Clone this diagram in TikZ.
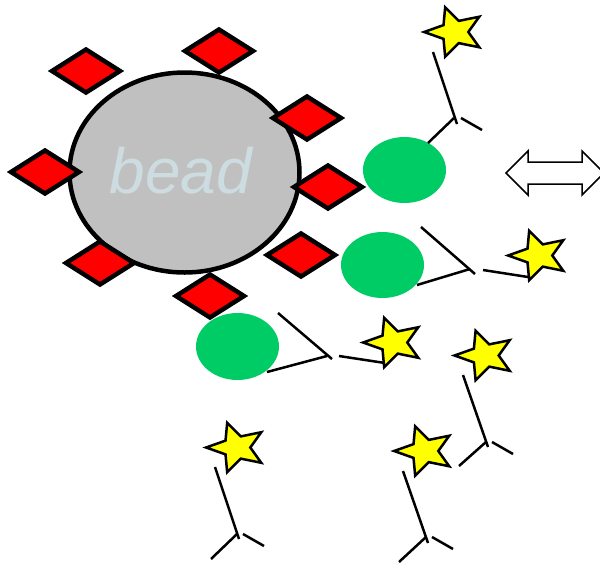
\documentclass[tikz,border=0pt]{standalone}
\usepackage{fontspec}
\newfontfamily\labelfont{Liberation Sans}
\definecolor{beadgray}{HTML}{C0C0C0}
\definecolor{beadtext}{HTML}{CDDCE0}
\definecolor{antigengreen}{HTML}{00CC66}
\definecolor{tagyellow}{HTML}{FFFF00}
\begin{document}
\begin{tikzpicture}[x=1pt,y=-1pt,
  beadbody/.style={fill=beadgray, draw=black, line width=4.5pt},
  epitopebox/.style={fill=red, draw=black, line width=4.5pt, line join=miter},
  antigen/.style={fill=antigengreen},
  antibody/.style={draw=black, line width=2.5pt},
  tagstar/.style={fill=tagyellow, draw=black, line width=2.5pt, line join=miter},
  exchange/.style={fill=white, draw=black, line width=1.5pt},
  pics/epitope/.style={code={
    \draw[epitopebox] (-34,0) -- (0,-21.5) -- (34,0) -- (0,21.5) -- cycle;}},
  pics/tag/.style={code={
    \draw[tagstar] plot[samples at={0,...,9}, variable=\k]
      ({(mod(\k,2)==0 ? 30.5 : 13.7)*cos(108+36*\k)},
       {-(mod(\k,2)==0 ? 26 : 11.7)*sin(108+36*\k)}) -- cycle;}}]

\useasboundingbox (0,0) rectangle (600,566);

% the bead
\draw[beadbody] (184.5,172.5) ellipse [x radius=115, y radius=100];

% epitopes around the bead
\foreach \p in {(86,71),(219,51),(307,118),(45,172),(328,187),(301,255),(100,263),(210,296)}
  \pic at \p {epitope};

\node[anchor=base, text=beadtext, inner sep=0pt,
      font=\labelfont\itshape\fontsize{64}{64}\selectfont] (beadlabel) at (181,193) {bead};

% antigens
\fill[antigen] (404.5,170) ellipse [x radius=41.5, y radius=33];
\fill[antigen] (382.5,265) ellipse [x radius=41.5, y radius=33];
\fill[antigen] (237.5,346.5) ellipse [x radius=41.5, y radius=33.5];

% antibodies
\draw[antibody] (433,52) -- (457,124);
\draw[antibody] (428,143) -- (454,118);
\draw[antibody] (461,118) -- (482,130);

\draw[antibody] (421,227) -- (475,274);
\draw[antibody] (417,285) -- (470,269);
\draw[antibody] (483,270) -- (528,277);

\draw[antibody] (278,313) -- (332,359);
\draw[antibody] (267,372) -- (327,356);
\draw[antibody] (339,356) -- (385,363);

\draw[antibody] (463,375) -- (488,447);
\draw[antibody] (459,466) -- (486,442);
\draw[antibody] (492,442) -- (513,454);

\draw[antibody] (215,467) -- (239,539);
\draw[antibody] (211,559) -- (237,534);
\draw[antibody] (243,534) -- (264,546);

\draw[antibody] (403,471) -- (428,543);
\draw[antibody] (399,562) -- (426,537);
\draw[antibody] (432,537) -- (453,549);

% labels
\foreach \p in {(454.6,32),(538.6,255.5),(393.6,342.5),(485,355.5),(236.6,447.5),(424.6,451)}
  \pic at \p {tag};

% exchange arrow
\draw[exchange] (506,173) -- (528,151) -- (528,162) -- (582,162) -- (582,151)
  -- (604,173) -- (582,195) -- (582,184) -- (528,184) -- (528,195) -- cycle;

\end{tikzpicture}
\end{document}
